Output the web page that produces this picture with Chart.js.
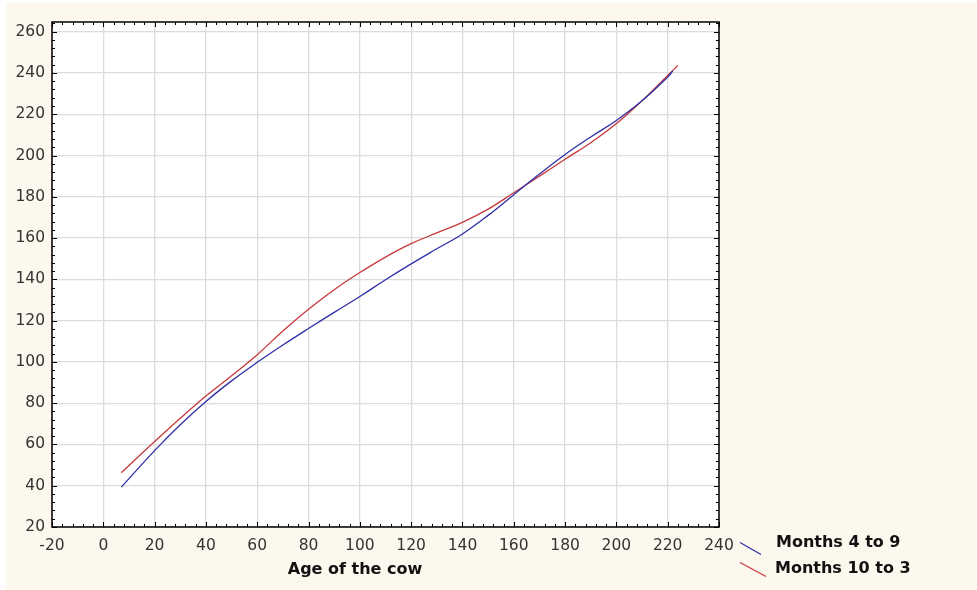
<!DOCTYPE html>
<html>
<head>
<meta charset="utf-8">
<title>Age of the cow</title>
<script src="https://cdn.jsdelivr.net/npm/chart.js@4.4.1/dist/chart.umd.min.js"></script>
<style>
  html, body { margin: 0; padding: 0; background: #ffffff; }
  canvas { display: block; }
</style>
</head>
<body>
<canvas id="chart" width="977" height="590"></canvas>
<script>
// Months 4 to 9 (blue)
const summerAges = [7, 20, 30, 40, 50, 60, 70, 80, 90, 100, 110, 120, 130, 140, 150, 160, 170, 180, 190, 200, 210, 220, 222];
const summerValues = [39.3, 57, 69.5, 80.8, 90.8, 99.8, 108.2, 116.2, 124, 131.7, 139.8, 147.5, 154.8, 162, 171, 181, 191, 200.5, 209, 217, 226.5, 238, 241];

// Months 10 to 3 (red)
const winterAges = [7, 20, 30, 40, 50, 60, 70, 80, 90, 100, 110, 120, 130, 140, 150, 160, 170, 180, 190, 200, 210, 220, 224];
const winterValues = [46.3, 61.4, 72.7, 83.5, 93.3, 103.5, 115, 125.5, 135, 143.3, 150.8, 157.3, 162.5, 167.6, 174, 182, 190, 198.2, 206.2, 215.5, 226.6, 238.8, 243.7];

const seriesLabels = ['Months 4 to 9', 'Months 10 to 3'];
const xTitle = 'Age of the cow';

const BLUE = '#2f2fa8';
const RED = '#c8383c';
const CREAM = '#fdf8ee';
const TICK_FONT = 'DejaVu Sans, Arial, sans-serif';

function toPoints(xs, ys) {
  return xs.map((x, i) => ({ x, y: ys[i] }));
}

// background, frame, inward minor ticks, title and the slanted legend
const decorPlugin = {
  id: 'decor',
  beforeDraw(chart) {
    const { ctx, chartArea: a } = chart;
    ctx.save();
    ctx.fillStyle = CREAM;
    ctx.fillRect(6, 3, chart.width - 6, chart.height - 3);
    ctx.fillStyle = '#ffffff';
    ctx.fillRect(a.left, a.top, a.right - a.left, a.bottom - a.top);
    ctx.restore();
  },
  afterDraw(chart) {
    const { ctx, chartArea: a, scales } = chart;
    const xs = scales.x;
    const ys = scales.y;
    ctx.save();
    ctx.strokeStyle = '#000000';
    ctx.lineWidth = 1;

    // ticks along x, every 4 units, longer at each 20
    ctx.beginPath();
    for (let v = xs.min; v <= xs.max + 0.01; v += 4) {
      const px = Math.round(xs.getPixelForValue(v)) + 0.5;
      const len = v % 20 === 0 ? 5 : 3;
      ctx.moveTo(px, a.bottom);
      ctx.lineTo(px, a.bottom - len);
      ctx.moveTo(px, a.top);
      ctx.lineTo(px, a.top + len);
    }
    // ticks along y
    for (let v = ys.min; v <= ys.max + 0.01; v += 4) {
      const py = Math.round(ys.getPixelForValue(v)) + 0.5;
      const len = (v - 20) % 20 === 0 ? 5 : 3;
      ctx.moveTo(a.left, py);
      ctx.lineTo(a.left + len, py);
      ctx.moveTo(a.right, py);
      ctx.lineTo(a.right - len, py);
    }
    ctx.stroke();

    // frame
    ctx.lineWidth = 1.5;
    ctx.strokeRect(a.left, a.top, a.right - a.left, a.bottom - a.top);

    // x axis title
    ctx.fillStyle = '#111111';
    ctx.font = 'bold 16px "DejaVu Sans", sans-serif';
    ctx.textAlign = 'center';
    ctx.textBaseline = 'middle';
    ctx.fillText(xTitle, 355, 570);

    // legend with slanted line samples
    const items = [
      { color: BLUE, from: [740, 542.5], to: [761, 554.5], textX: 776, textY: 543 },
      { color: RED, from: [740, 562.5], to: [766, 576.5], textX: 775, textY: 569 },
    ];
    ctx.textAlign = 'left';
    items.forEach((it, i) => {
      ctx.strokeStyle = it.color;
      ctx.lineWidth = 1.2;
      ctx.beginPath();
      ctx.moveTo(it.from[0], it.from[1]);
      ctx.lineTo(it.to[0], it.to[1]);
      ctx.stroke();
      ctx.fillStyle = '#111111';
      ctx.fillText(chart.data.datasets[i].label, it.textX, it.textY);
    });
    ctx.restore();
  },
};

const ctx = document.getElementById('chart').getContext('2d');

new Chart(ctx, {
  type: 'line',
  data: {
    datasets: [
      {
        label: seriesLabels[0],
        data: toPoints(summerAges, summerValues),
        borderColor: BLUE,
        borderWidth: 1.3,
        pointRadius: 0,
        tension: 0.4,
        fill: false,
      },
      {
        label: seriesLabels[1],
        data: toPoints(winterAges, winterValues),
        borderColor: RED,
        borderWidth: 1.3,
        pointRadius: 0,
        tension: 0.4,
        fill: false,
      },
    ],
  },
  options: {
    responsive: false,
    animation: false,
    devicePixelRatio: 1,
    layout: { padding: { left: 0, top: 22, right: 258, bottom: 0 } },
    plugins: {
      legend: { display: false },
      tooltip: { enabled: false },
    },
    scales: {
      x: {
        type: 'linear',
        min: -20,
        max: 240,
        afterFit(scale) { scale.height = 63; },
        ticks: {
          stepSize: 20,
          padding: 10,
          color: '#333333',
          font: { family: TICK_FONT, size: 15.5 },
          maxRotation: 0,
        },
        grid: { color: '#dcdcdc', lineWidth: 1.3, drawTicks: false },
        border: { display: false },
      },
      y: {
        type: 'linear',
        min: 20,
        max: 264.7,
        afterFit(scale) { scale.width = 52; },
        ticks: {
          stepSize: 20,
          includeBounds: false,
          padding: 7,
          color: '#333333',
          font: { family: TICK_FONT, size: 15.5 },
        },
        grid: { color: '#dcdcdc', lineWidth: 1.3, drawTicks: false },
        border: { display: false },
      },
    },
  },
  plugins: [decorPlugin],
});
</script>
</body>
</html>
